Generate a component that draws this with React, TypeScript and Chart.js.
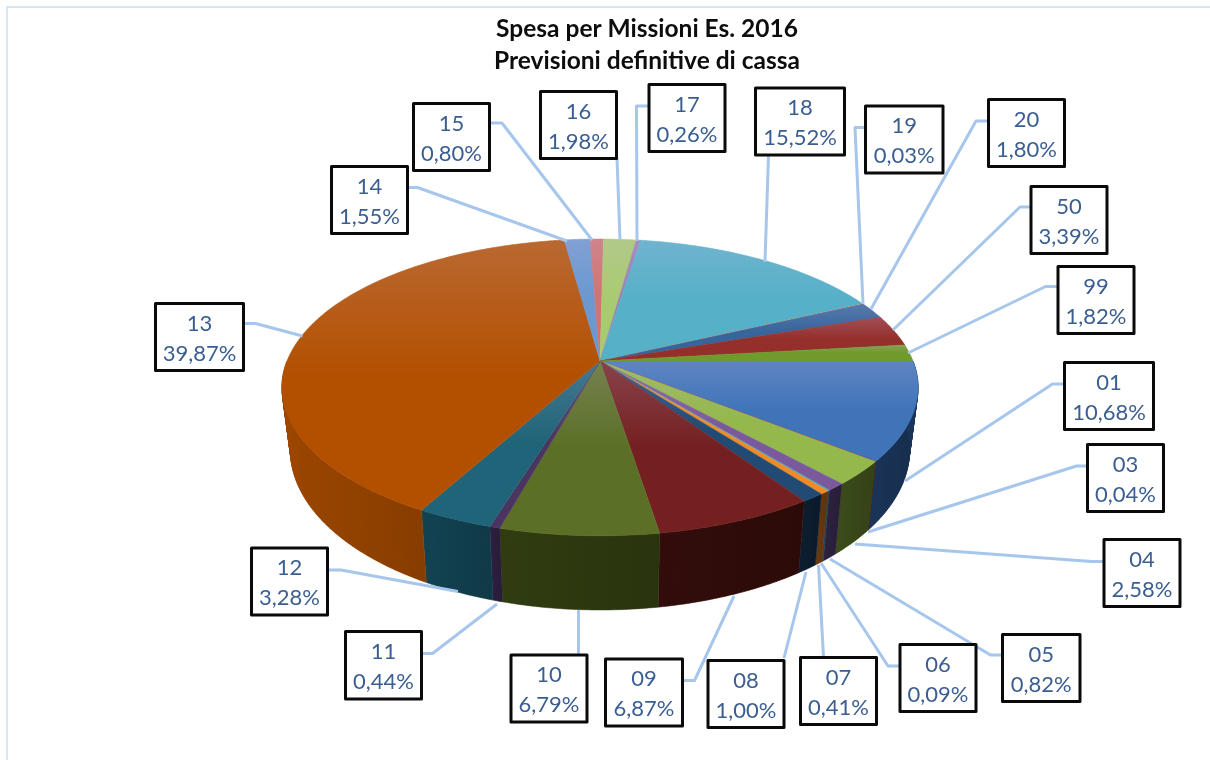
import React, { useEffect, useRef } from "react";
import { Chart, registerables } from "chart.js";

Chart.register(...registerables);

const categories = ["01","03","04","05","06","07","08","09","10","11","12","13","14","15","16","17","18","19","20","50","99"];
const percentages = [10.68,0.04,2.58,0.82,0.09,0.41,1.0,6.87,6.79,0.44,3.28,39.87,1.55,0.8,1.98,0.26,15.52,0.03,1.8,3.39,1.82];
const topColors = ["#3f74b9","#b8403c","#94b84c","#7a5a9c","#46a8c0","#ef8a25","#214a75","#742020","#5b7026","#4a3560","#1f6478","#b35000","#6a98cf","#cf7373","#a9cb70","#9a80b5","#55b0c8","#f9ab6b","#36659c","#942f2c","#6f9a2c"];
const sideColors = ["#1b3558","#5a1a18","#3c4c1a","#2e2340","#1c4a58","#6b3a10","#0c1e30","#320d0b","#303c11","#2e2040","#134352","#9c4700","#345070","#703838","#556838","#4a3c58","#2a5a68","#784820","#1a3050","#481412","#354a14"];
const titleLines = ["Spesa per Missioni Es. 2016", "Previsioni definitive di cassa"];

// Callout layout, one entry per category: box [left, top, right, bottom] and leader polyline.
const calloutBoxes = [
  [1064.5,362.5,1153.5,429.5],[1087.5,444.5,1163.5,511.5],[1104,539.5,1180,606.5],[1002.5,634.5,1080,701.5],[900,644.5,976,711.5],
  [800.5,657.5,876.5,724.5],[708,660.5,784,727.5],[605.5,659,682.5,726],[511,655,587,722],[345.5,631.5,421.5,699],
  [251.5,548,327.5,615],[155.5,303.5,243.5,370.5],[331.5,166.5,407.5,233.5],[413.5,103.5,489.5,170.5],[540.5,91.5,616.5,158.5],
  [649,84.5,725,151.5],[755.5,88,844.5,155],[865.5,106,943,173],[988.5,99.5,1064.5,166.5],[1031,186.5,1107,253.5],[1058,266.5,1134,333.5],
];
const leaderPaths = [
  [[1064,384],[1052.5,384],[905,481]],[[1087,466],[1076.5,466],[868,532]],[[1104,561.5],[1091.5,561.5],[855,544]],
  [[1002,655],[990.5,655],[830,559]],[[899,666],[888,666],[821,563]],[[823.5,657],[818.5,565]],[[784,658],[806,572]],
  [[682,680.5],[694.5,680.5],[734,596]],[[578.5,655],[578.5,610]],[[421,653.5],[432.5,653.5],[497,604]],[[328,570],[341,570],[458,591.5]],
  [[244,323.5],[255.5,323.5],[302.5,336]],[[408,187.5],[417.5,187.5],[567,241]],[[489,123],[502,123],[592,240]],
  [[617,158],[620,240]],[[649,106],[636.5,106],[637,241]],[[768.5,155],[765,262]],[[865,127.5],[855,127.5],[863,304]],
  [[988,121],[976,121],[871,309]],[[1031,207],[1020,207],[893,330]],[[1058,286.5],[1045.5,286.5],[908,353]],
];

const PERSPECTIVE = 0.178;
const FLATTEN = 0.459;
const DEPTH = 61;
const BASE_SHRINK = 0.973;
const FONT = "Lato, 'Open Sans', sans-serif";

function pieEffect() {
  return {
    id: "pieEffect",
    beforeDatasetsDraw(chart: any) {
      const { ctx } = chart;
      const arcs = chart.getDatasetMeta(0).data;
      const project = (a: number, cx: number, cy: number, r: number, bottom: boolean) => {
        const u = Math.cos(a), v = Math.sin(a);
        const s = 1 / (1 - PERSPECTIVE * v);
        return bottom
          ? [cx + r * u * s * BASE_SHRINK, cy + r * FLATTEN * v * s + DEPTH * s]
          : [cx + r * u * s, cy + r * FLATTEN * v * s];
      };
      const sweep = (from: number, to: number) => {
        const n = Math.max(2, Math.ceil((to - from) / (Math.PI / 360)));
        return Array.from({ length: n + 1 }, (_, i) => from + ((to - from) * i) / n);
      };
      ctx.save();
      // walls: one strip per angular step, so the silhouette tangents are covered
      arcs.forEach((arc: any, i: number) => {
        const from = Math.max(arc.startAngle, 0);
        const to = Math.min(arc.endAngle, Math.PI);
        if (to <= from) return;
        const as = sweep(from, to);
        const upper = as.map((a) => project(a, arc.x, arc.y, arc.outerRadius, false));
        const lower = as.map((a) => project(a, arc.x, arc.y, arc.outerRadius, true));
        ctx.beginPath();
        for (let k = 0; k < as.length - 1; k++) {
          ctx.moveTo(upper[k][0], upper[k][1]);
          ctx.lineTo(upper[k + 1][0], upper[k + 1][1]);
          ctx.lineTo(lower[k + 1][0], lower[k + 1][1]);
          ctx.lineTo(lower[k][0], lower[k][1]);
          ctx.closePath();
        }
        const xs = [...upper, ...lower].map((p) => p[0]);
        const x0 = Math.min(...xs), x1 = Math.max(...xs);
        ctx.fillStyle = sideColors[i];
        ctx.strokeStyle = sideColors[i];
        ctx.lineWidth = 0.5;
        ctx.fill();
        ctx.stroke();
        const g = ctx.createLinearGradient(x0, 0, x1 + 0.01, 0);
        g.addColorStop(0, "rgba(0,0,0,0)");
        g.addColorStop(1, "rgba(0,0,0,0.14)");
        ctx.fillStyle = g;
        ctx.fill();
      });
      // top faces
      arcs.forEach((arc: any, i: number) => {
        const poly = [[arc.x, arc.y], ...sweep(arc.startAngle, arc.endAngle).map((a) => project(a, arc.x, arc.y, arc.outerRadius, false))];
        ctx.beginPath();
        poly.forEach((p, k) => (k ? ctx.lineTo(p[0], p[1]) : ctx.moveTo(p[0], p[1])));
        ctx.closePath();
        ctx.fillStyle = topColors[i];
        ctx.strokeStyle = topColors[i];
        ctx.lineWidth = 0.5;
        ctx.fill();
        ctx.stroke();
        const ys = poly.map((p) => p[1]);
        const y0 = Math.min(...ys), y1 = Math.max(...ys);
        const g = ctx.createLinearGradient(0, y0, 0, y0 + (y1 - y0) * 0.5 + 0.01);
        g.addColorStop(0, "rgba(210,190,230,0.22)");
        g.addColorStop(1, "rgba(210,190,230,0)");
        ctx.fillStyle = g;
        ctx.fill();
      });
      ctx.restore();
      return false;
    },
    afterDraw(chart: any) {
      const { ctx, width, height } = chart;
      ctx.save();
      // frame
      ctx.strokeStyle = "#d6e4f5";
      ctx.lineWidth = 2;
      ctx.beginPath();
      ctx.moveTo(width, 7);
      ctx.lineTo(7, 7);
      ctx.lineTo(7, height);
      ctx.stroke();
      // leaders
      ctx.strokeStyle = "#a6c6ec";
      ctx.lineWidth = 3;
      ctx.lineJoin = "round";
      leaderPaths.forEach((path) => {
        ctx.beginPath();
        path.forEach((p, k) => (k ? ctx.lineTo(p[0], p[1]) : ctx.moveTo(p[0], p[1])));
        ctx.stroke();
      });
      // callouts
      categories.forEach((cat, i) => {
        const [l, t, r, b] = calloutBoxes[i];
        ctx.fillStyle = "#ffffff";
        ctx.fillRect(l, t, r - l, b - t);
        ctx.strokeStyle = "#0a0a0a";
        ctx.lineWidth = 3;
        ctx.strokeRect(l, t, r - l, b - t);
        ctx.fillStyle = "#3b5e91";
        ctx.font = `22px ${FONT}`;
        ctx.textAlign = "center";
        ctx.textBaseline = "middle";
        const mid = (l + r) / 2;
        const pct = percentages[i].toFixed(2).replace(".", ",") + "%";
        ctx.fillText(cat, mid, t + 20);
        ctx.fillText(pct, mid, t + 50);
      });
      ctx.restore();
    },
  };
}

export default function App() {
  const ref = useRef<HTMLCanvasElement | null>(null);
  useEffect(() => {
    const chart = new Chart(ref.current as HTMLCanvasElement, {
      type: "pie",
      data: {
        labels: categories,
        datasets: [{ data: percentages, backgroundColor: topColors, borderWidth: 0 }],
      },
      options: {
        responsive: false,
        animation: false,
        rotation: 90,
        radius: 313,
        layout: { padding: { left: 0, right: 10, top: 0, bottom: 119 } },
        events: [],
        plugins: {
          legend: { display: false },
          tooltip: { enabled: false },
          title: {
            display: true,
            text: titleLines,
            color: "#0d0d0d",
            font: { family: FONT, size: 24.5, weight: "bold", lineHeight: 32 / 24.5 },
            padding: { top: 13.5, bottom: 3.5 },
          },
        },
      },
      plugins: [
        pieEffect(),
        {
          id: "titleShift",
          afterLayout(c: any) {
            c.titleBlock.left = 84;
            c.titleBlock.right = 1210;
          },
        },
      ],
    } as any);
    return () => chart.destroy();
  }, []);
  return (
    <div style={{ position: "absolute", left: 0, top: 0, width: 1210, height: 760, background: "#fff" }}>
      <canvas ref={ref} width={1210} height={760} style={{ display: "block" }} />
    </div>
  );
}
